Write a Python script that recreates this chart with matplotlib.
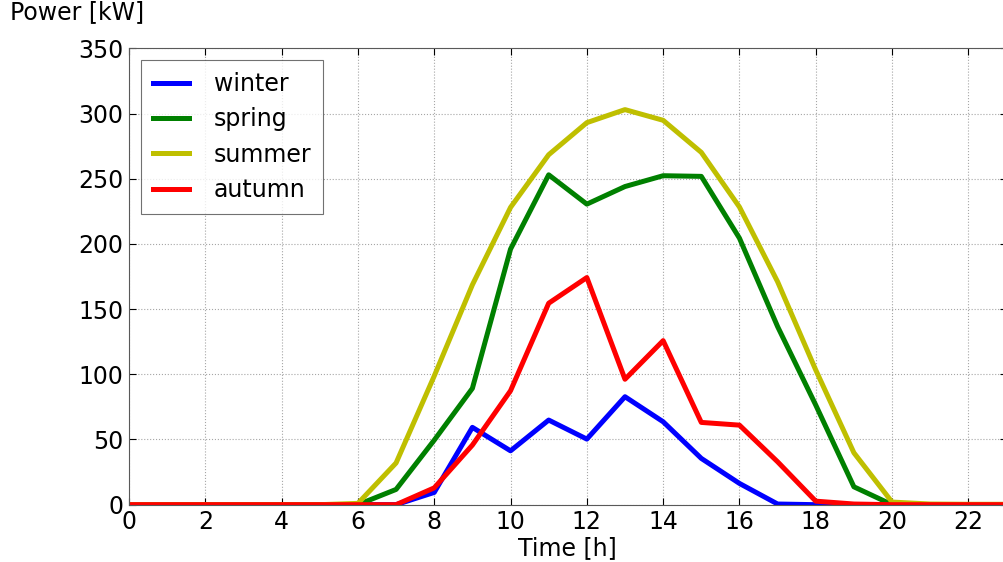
import numpy as np
import matplotlib
matplotlib.use("Agg")
import matplotlib.pyplot as plt

hours = np.arange(24)

winter = [0, 0, 0, 0, 0, 0, 0, 0, 9.4, 59.3, 41.3, 64.9, 50.3, 82.8, 63.6, 35.5,
          16.3, 0.5, 0, 0, 0, 0, 0, 0]
spring = [0, 0, 0, 0, 0, 0, 0, 11.7, 49.5, 89.2, 196, 253, 230.5, 244, 252.3, 251.8,
          204.4, 136.6, 76.4, 13.7, 0, 0, 0, 0]
summer = [0, 0, 0, 0, 0, 0, 1, 32, 98.7, 168.6, 228, 268.4, 293, 303, 294.8, 270.2,
          228.3, 171, 103.3, 39.8, 2, 0.5, 0.3, 0.3]
autumn = [0, 0, 0, 0, 0, 0, 0, 0, 12.9, 45.7, 87.4, 154.5, 174.2, 96.2, 125.8, 63.1,
          61, 32.9, 2.7, 0.5, 0, 0, 0, 0]

series = [("winter", winter, "b"), ("spring", spring, "g"),
          ("summer", summer, (0.75, 0.75, 0)), ("autumn", autumn, "r")]

plt.rcParams["font.size"] = 17
plt.rcParams["xtick.direction"] = "in"
plt.rcParams["ytick.direction"] = "in"

fig = plt.figure(figsize=(10.04, 5.62), dpi=100)
ax = fig.add_axes([0.1285, 0.102, 0.874, 0.812])

for name, vals, col in series:
    ax.plot(hours, vals, color=col, lw=3.6, label=name)

ax.set_xlim(0, 23)
ax.set_ylim(0, 350)
ax.set_xticks(range(0, 23, 2))
ax.set_yticks(range(0, 351, 50))
ax.tick_params(top=True, right=True, length=5, width=0.8, pad=4)
ax.grid(True, linestyle=":", color="0.65", lw=0.8)
for sp in ax.spines.values():
    sp.set_color("0.35")
ax.set_xlabel("Time [h]", labelpad=1)
fig.text(0.01, 0.958, "Power [kW]", fontsize=17, va="bottom")

leg = ax.legend(loc="upper left", fancybox=False, handlelength=1.55,
                borderpad=0.5, labelspacing=0.48, handletextpad=1.05)
leg.get_frame().set_edgecolor("0.3")
leg.get_frame().set_linewidth(0.8)

fig.savefig("out.png", dpi=100)
